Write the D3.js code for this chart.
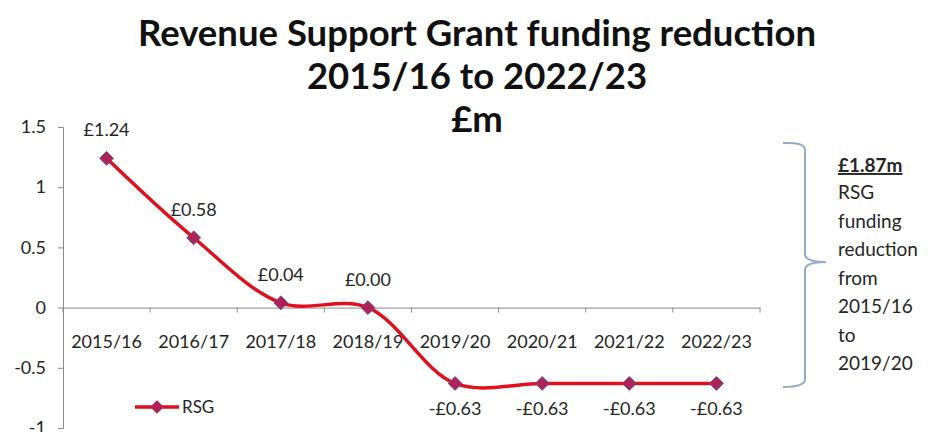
<!DOCTYPE html>
<html>
<head>
<meta charset="utf-8">
<script src="https://cdn.jsdelivr.net/npm/d3@7"></script>
<style>
  body { margin: 0; background: #fff; }
  text { font-family: Lato, "Open Sans", sans-serif; }
</style>
</head>
<body>
<div id="chart"></div>
<script>
/* Data */
var years = ["2015/16", "2016/17", "2017/18", "2018/19", "2019/20", "2020/21", "2021/22", "2022/23"];
var rsg = [1.24, 0.58, 0.04, 0.00, -0.63, -0.63, -0.63, -0.63];
var yTicks = [-1, -0.5, 0, 0.5, 1, 1.5];
var titleLines = ["Revenue Support Grant funding reduction", "2015/16 to 2022/23", "£m"];
var noteLines = ["RSG", "funding", "reduction", "from", "2015/16", "to", "2019/20"];
var noteHead = "£1.87m";

/* Settings */
var width = 941,
    height = 432,
    lineColor = "#e2101c",
    markerColor = "#b0225a",
    axisColor = "#8c8c8c",
    textColor = "#262626";

var svg = d3.select("#chart").append("svg")
    .attr("width", width)
    .attr("height", height)
    .attr("viewBox", "0 0 " + width + " " + height);

var x = d3.scaleBand()
    .domain(years)
    .range([63, 760]);

var y = d3.scaleLinear()
    .domain([-1, 1.5])
    .range([428, 127]);

/* Title */
svg.append("g")
  .selectAll("text")
  .data(titleLines)
  .join("text")
    .attr("x", 477)
    .attr("y", function(d, i) { return 46 + i * 43; })
    .attr("text-anchor", "middle")
    .attr("font-size", 36.5)
    .attr("font-weight", "bold")
    .attr("fill", "#111")
    .text(function(d) { return d; });

/* Y axis */
var yAxis = svg.append("g")
    .attr("transform", "translate(63,0)")
    .call(d3.axisLeft(y).tickValues(yTicks).tickSize(5).tickPadding(12)
      .tickFormat(function(d) { return d3.format("")(d).replace("−", "-"); }));
yAxis.selectAll("path, line").attr("stroke", axisColor);
yAxis.selectAll("text").attr("font-size", 18).attr("fill", textColor)
    .attr("font-family", "Lato, sans-serif");

/* X axis on zero line */
var xAxis = svg.append("g")
    .attr("transform", "translate(0," + y(0) + ")")
    .call(d3.axisBottom(x).tickSize(0).tickPadding(28));
xAxis.select(".domain").attr("stroke", axisColor);
xAxis.selectAll("text").attr("font-size", 18).attr("fill", textColor)
    .attr("font-family", "Lato, sans-serif");
xAxis.selectAll(".bound")
  .data(d3.range(years.length + 1))
  .join("line")
    .attr("class", "bound")
    .attr("x1", function(i) { return x.range()[0] + i * x.step(); })
    .attr("x2", function(i) { return x.range()[0] + i * x.step(); })
    .attr("y1", 0)
    .attr("y2", 5)
    .attr("stroke", axisColor);

/* Series */
var pts = years.map(function(d, i) { return [x(d) + x.bandwidth() / 2, y(rsg[i])]; });

var line = d3.line().curve(d3.curveCatmullRom.alpha(0.5));

svg.append("path")
  .datum(pts)
  .attr("fill", "none")
  .attr("stroke", lineColor)
  .attr("stroke-width", 3.5)
  .attr("d", line);

var diamond = d3.symbol().type(d3.symbolDiamond2).size(120);

svg.append("g")
  .selectAll("path")
  .data(pts)
  .join("path")
    .attr("transform", function(d) { return "translate(" + d[0] + "," + d[1] + ")"; })
    .attr("d", diamond)
    .attr("fill", markerColor)
    .attr("stroke", "#6d4a86")
    .attr("stroke-width", 1);

/* Data labels */
svg.append("g")
  .selectAll("text")
  .data(rsg)
  .join("text")
    .attr("x", function(d, i) { return pts[i][0]; })
    .attr("y", function(d, i) { return d < 0 ? pts[i][1] + 32 : pts[i][1] - 22; })
    .attr("text-anchor", "middle")
    .attr("font-size", 18)
    .attr("fill", textColor)
    .text(function(d) { return (d < 0 ? "-£" : "£") + Math.abs(d).toFixed(2); });

/* Legend */
var legend = svg.append("g").attr("transform", "translate(135,407)");
legend.append("line")
    .attr("x1", 0).attr("x2", 44)
    .attr("stroke", lineColor).attr("stroke-width", 3.5);
legend.append("path")
    .attr("transform", "translate(22,0)")
    .attr("d", diamond)
    .attr("fill", markerColor);
legend.append("text")
    .attr("x", 47).attr("y", 6)
    .attr("font-size", 17)
    .attr("fill", textColor)
    .text("RSG");

/* Brace and note */
svg.append("path")
    .attr("d", "M783,143 Q805,142 805,150 L805,254 Q805,262 826,262 Q805,262 805,270 L805,379 Q805,387 783,387")
    .attr("fill", "none")
    .attr("stroke", "#95abc9")
    .attr("stroke-width", 2);

svg.append("text")
    .attr("x", 838).attr("y", 172)
    .attr("font-size", 19)
    .attr("font-weight", "bold")
    .attr("fill", textColor)
    .attr("text-decoration", "underline")
    .text(noteHead);

svg.append("g")
  .selectAll("text")
  .data(noteLines)
  .join("text")
    .attr("x", 838)
    .attr("y", function(d, i) { return 199 + i * 28.5; })
    .attr("font-size", 19)
    .attr("fill", textColor)
    .text(function(d) { return d; });
</script>
</body>
</html>
